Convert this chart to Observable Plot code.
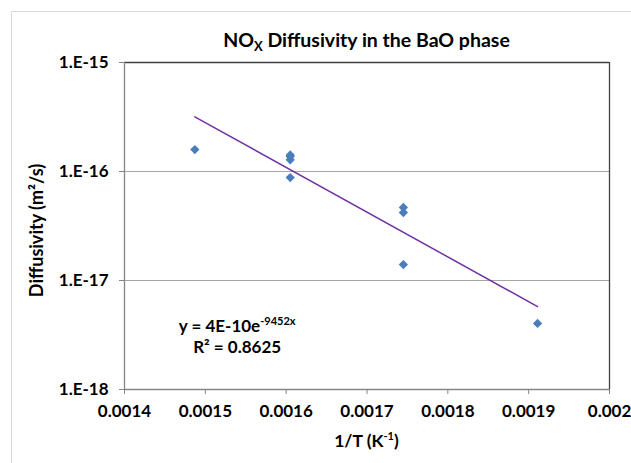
<!DOCTYPE html>
<html><head><meta charset="utf-8">
<script src="https://cdn.jsdelivr.net/npm/d3@7"></script>
<script src="https://cdn.jsdelivr.net/npm/@observablehq/plot@0.6"></script>
<style>
body{margin:0;background:#fff;}
#chart{position:relative;width:631px;height:463px;overflow:hidden;background:#fff;}
#frame{position:absolute;left:11px;top:11px;width:700px;height:600px;border:1px solid #d9d9d9;}
#chart svg{position:absolute;left:0;top:0;}
</style></head><body>
<div id="chart"><div id="frame"></div></div>
<script>
// ---- data ----
const invT = [0.001487, 0.001605, 0.001605, 0.001605, 0.001605, 0.001745, 0.001745, 0.001745, 0.001911];
const diffusivity = [1.59e-16, 1.42e-16, 1.37e-16, 1.28e-16, 8.8e-17, 4.68e-17, 4.2e-17, 1.40e-17, 4.04e-18];
const xTicks = [0.0014, 0.0015, 0.0016, 0.0017, 0.0018, 0.0019, 0.002];
const xTickLabels = ["0.0014", "0.0015", "0.0016", "0.0017", "0.0018", "0.0019", "0.002"];
const yTicks = [1e-18, 1e-17, 1e-16, 1e-15];
const yTickLabels = ["1.E-18", "1.E-17", "1.E-16", "1.E-15"];
const yGrid = [1e-17, 1e-16];
const xDomain = [0.0014, 0.002];
const yDomain = [1e-18, 1e-15];
const trendA = 4.03e-10;   // y = 4E-10 e^(-9452x)
const trendK = -9452;
const rSquared = "0.8625";

const points = invT.map((x, i) => ({x, y: diffusivity[i]}));
const trendX = [d3.min(invT), d3.max(invT)];
const trend = trendX.map(x => ({x, y: trendA * Math.exp(trendK * x)}));

const FONT = "Lato, 'Open Sans', sans-serif";
const W = 631, H = 463, ML = 124, MR = 22, MT = 62, MB = 74;

const plot = Plot.plot({
  width: W, height: H,
  marginLeft: ML, marginRight: MR, marginTop: MT, marginBottom: MB,
  style: {fontFamily: FONT, fontWeight: "bold", background: "transparent", color: "#000"},
  x: {domain: xDomain},
  y: {type: "log", domain: yDomain},
  marks: [
    Plot.ruleY(yGrid, {stroke: "#a6a6a6", strokeWidth: 1}),
    Plot.ruleY([yDomain[1]], {stroke: "#404040", strokeWidth: 1.3}),
    Plot.ruleX([xDomain[1]], {stroke: "#404040", strokeWidth: 1.3}),
    Plot.ruleX([xDomain[0]], {stroke: "#868686", strokeWidth: 1.3}),
    Plot.ruleY([yDomain[0]], {stroke: "#868686", strokeWidth: 1.3}),
    Plot.axisX({ticks: xTicks, tickFormat: (d) => xTickLabels[xTicks.indexOf(d)], tickSize: 5, tickPadding: 10,
      stroke: "#868686", fill: "#000", fontSize: 17, label: null}),
    Plot.axisY({ticks: yTicks, tickFormat: d => yTickLabels[yTicks.indexOf(d)], tickSize: 5, tickPadding: 11,
      stroke: "#868686", fill: "#000", fontSize: 17, label: null}),
    Plot.line(trend, {x: "x", y: "y", stroke: "#7030a0", strokeWidth: 1.5}),
    Plot.dot(points, {x: "x", y: "y", symbol: "diamond2", fill: "#4a7ebb", stroke: "none", r: 4.2})
  ]
});
document.getElementById("chart").appendChild(plot);

const sx = plot.scale("x"), sy = plot.scale("y");
const svg = d3.select(plot);
const cx = (ML + (W - MR)) / 2;

// title
const title = svg.append("text").attr("x", cx).attr("y", 47).attr("text-anchor", "middle")
  .attr("font-family", FONT).attr("font-weight", "bold").attr("font-size", 19.5).attr("fill", "#000");
title.append("tspan").text("NO");
title.append("tspan").attr("font-size", 13).attr("dy", 4).text("X");
title.append("tspan").attr("dy", -4).text(" Diffusivity in the BaO phase");

// x-axis title
const xt = svg.append("text").attr("x", cx).attr("y", 447).attr("text-anchor", "middle")
  .attr("font-family", FONT).attr("font-weight", "bold").attr("font-size", 17.5).attr("fill", "#000");
xt.append("tspan").text("1/T (K");
xt.append("tspan").attr("font-size", 11).attr("dy", -7).text("-1");
xt.append("tspan").attr("dy", 7).text(")");

// y-axis title
svg.append("text").attr("transform", `translate(43,${(MT + H - MB) / 2 + 5}) rotate(-90)`).attr("text-anchor", "middle")
  .attr("font-family", FONT).attr("font-weight", "bold").attr("font-size", 18).attr("fill", "#000")
  .text("Diffusivity (m²/s)");

// trendline equation
const ex = sx.apply(0.00154);
const eq = svg.append("text").attr("x", ex).attr("y", sy.apply(3.35e-18)).attr("text-anchor", "middle")
  .attr("font-family", FONT).attr("font-weight", "bold").attr("font-size", 17).attr("fill", "#000");
eq.append("tspan").text("y = 4E-10e");
eq.append("tspan").attr("font-size", 11).attr("dy", -7).text("-9452x");
svg.append("text").attr("x", ex).attr("y", sy.apply(2.15e-18)).attr("text-anchor", "middle")
  .attr("font-family", FONT).attr("font-weight", "bold").attr("font-size", 17).attr("fill", "#000")
  .text("R² = " + rSquared);
</script>
</body></html>
